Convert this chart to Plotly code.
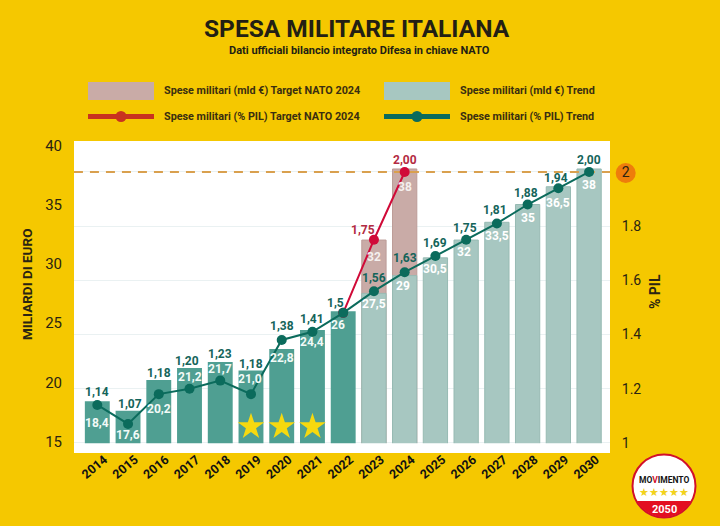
import numpy as np
import plotly.graph_objects as go

years_all = list(range(2014, 2031))
hist_years = list(range(2014, 2023))
hist_spend = [18.4, 17.6, 20.2, 21.2, 21.7, 21.0, 22.8, 24.4, 26]
trend_years = list(range(2023, 2031))
trend_spend = [27.5, 29, 30.5, 32, 33.5, 35, 36.5, 38]
target_years = [2023, 2024]
target_spend = [32, 38]
pil_trend = [1.14, 1.07, 1.18, 1.20, 1.23, 1.18, 1.38, 1.41, 1.48, 1.56, 1.63, 1.69, 1.75, 1.81, 1.88, 1.94, 2.00]
pil_trend_labels = ["1,14", "1,07", "1,18", "1,20", "1,23", "1,18", "1,38", "1,41", "1,5", "1,56", "1,63", "1,69", "1,75", "1,81", "1,88", "1,94", "2,00"]
target_line_years = [2022, 2023, 2024]
pil_target = [1.48, 1.75, 2.00]
star_years = [2019, 2020, 2021]

# label nudges in pixels (label offset relative to its mark)
spend_dy = [22, 24, 29, 9, 7, 8.5, 9, 12, 14]
trend_dy = [11, 10.5, 11, 12, 14, 13, 16.5, 16]
target_dy = [17, 18]
pil_dy = [13, 20, 21, 28, 27, 30, 14, 13, 10, 13, 14, 13, 12, 13, 12, 10, 12]
pil_dx = [0, 2, 0, -3, 0, 0, 0, 0, -8, 0, 0, 0, -1, -2, -2, -2, 0]
spend_dx = [0, 0, 0, 0, 0, -1, 0, 0, -5]
trend_dx = [0, -2, 0, -2, 0, 0, 0, 0]

W, H = 720, 526
L, R, T, B = 74, 610, 141, 453
BG = "#F5C800"
DARK = "#4F9F92"
LIGHT = "#A7C7C1"
PINK = "#C9ABA7"
GREEN = "#0B6B5C"
RED = "#D00A38"
INK = "#2A2412"
FONT = "Roboto"


def px(x):
    return (x - L) / (R - L)


def py(y):
    return (B - y) / (B - T)


fig = go.Figure()
fig.add_bar(x=target_years, y=target_spend, marker=dict(color=PINK, line=dict(color="#BC9C98", width=1)), width=0.79, yaxis="y", showlegend=False)
fig.add_bar(x=trend_years, y=trend_spend, marker=dict(color=LIGHT, line=dict(color="#97BAB3", width=1)), width=0.79, yaxis="y", showlegend=False)
fig.add_bar(x=hist_years, y=hist_spend, marker=dict(color=DARK, line=dict(width=0)), width=0.81, yaxis="y", showlegend=False)
fig.add_scatter(x=star_years, y=[16.25] * 3, mode="markers", yaxis="y", showlegend=False,
                marker=dict(symbol="star", size=20, color="#F6D90F", line=dict(width=0)))
fig.add_scatter(x=[2013.24, 2030.75], y=[2, 2], mode="lines", yaxis="y2", showlegend=False, cliponaxis=False,
                line=dict(color="#D9A04E", width=2, dash="9px 7px"))
fig.add_scatter(x=target_line_years, y=pil_target, mode="lines+markers", yaxis="y2", showlegend=False,
                line=dict(color=RED, width=2), marker=dict(color=RED, size=10))
fig.add_scatter(x=years_all, y=pil_trend, mode="lines+markers", yaxis="y2", showlegend=False,
                line=dict(color=GREEN, width=2), marker=dict(color=GREEN, size=10))

ann = []


def note(x, y, text, color, size, xref="x", yref="y", dx=0, dy=0, bold=True, xanchor="center", **kw):
    t = f"<b>{text}</b>" if bold else text
    ann.append(dict(x=x, y=y, xref=xref, yref=yref, text=t, showarrow=False, xshift=dx, yshift=dy,
                    xanchor=xanchor, yanchor="middle",
                    font=dict(family=FONT, size=size, color=color), **kw))


def comma(v):
    return str(v).replace(".", ",") if v != 21.0 else "21,0"


for yr, v, d, dx in zip(hist_years, hist_spend, spend_dy, spend_dx):
    note(yr, v, comma(v), "#F2FAF7", 12, dx=dx, dy=-d)
for yr, v, d, dx in zip(target_years, target_spend, target_dy, [0, 0]):
    note(yr, v, comma(v), "#F5F0EE", 12, dx=dx, dy=-d)
for yr, v, d, dx in zip(trend_years, trend_spend, trend_dy, trend_dx):
    note(yr, v, comma(v), "#FFFFFF", 12, dx=dx, dy=-d)
for yr, v, t, d, dx in zip(years_all, pil_trend, pil_trend_labels, pil_dy, pil_dx):
    note(yr, v, t, "#14645A", 12, yref="y2", dx=dx, dy=d)
note(2023, 1.75, "1,75", "#B32B42", 12, yref="y2", dx=-11, dy=10)
note(2024, 2.00, "2,00", "#B32B42", 12, yref="y2", dy=12)

# titles
note(px(357), py(29), "SPESA MILITARE ITALIANA", "#231F14", 24.5, xref="paper", yref="paper")
note(px(359.5), py(50.5), "Dati ufficiali bilancio integrato Difesa in chiave NATO", "#231F14", 11, xref="paper", yref="paper")

# legend texts
for xp, yp, t in [(162, 91, "Spese militari (mld €) Target NATO 2024"),
                  (162, 116.5, "Spese militari (% PIL) Target NATO 2024"),
                  (458, 91, "Spese militari (mld €) Trend"),
                  (458, 116.5, "Spese militari (% PIL) Trend")]:
    note(px(xp), py(yp), t, "#3A2E10", 10.8, xref="paper", yref="paper", xanchor="left")

# axis titles
note(px(27), py(285), "MILIARDI DI EURO", INK, 13.5, xref="paper", yref="paper", textangle=-90)
note(px(655), py(292), "% PIL", INK, 14, xref="paper", yref="paper", textangle=-90)

# logo text
note(px(664), py(480), "MO<span style='color:#D2102A'>V</span>IMENTO", "#151515", 8.5, xref="paper", yref="paper")
note(px(664), py(492.5), "★★★★★", "#F2D21B", 10.5, xref="paper", yref="paper", bold=False)
note(px(664), py(509), "2050", "#FFFFFF", 11, xref="paper", yref="paper")


def rect(x0, x1, y0, y1, color):
    return dict(type="rect", xref="paper", yref="paper", x0=px(x0), x1=px(x1), y0=py(y0), y1=py(y1),
                fillcolor=color, line=dict(width=0), layer="above")


def circle(cx, cy, r, color, layer="above", line=None):
    return dict(type="circle", xref="paper", yref="paper", x0=px(cx - r), x1=px(cx + r), y0=py(cy - r), y1=py(cy + r),
                fillcolor=color, line=line or dict(width=0), layer=layer)


shapes = [
    # white strip under the bars
    dict(type="rect", xref="paper", yref="y", x0=0, x1=1, y0=14, y1=14.85, fillcolor="white", line=dict(width=0), layer="above"),
    rect(88, 154, 82, 100, PINK),
    rect(384, 450, 82, 100, LIGHT),
    rect(88, 154, 114, 119, "#C9321F"),
    circle(121, 116.5, 5.5, "#C9321F"),
    rect(384, 450, 114, 119, GREEN),
    circle(417, 116.5, 5.5, GREEN),
    circle(625.7, 173, 10, "#EE7D0B", layer="below"),
    circle(664, 486, 31.5, "white", line=dict(color="#D2102A", width=2)),
]
theta = np.linspace(np.deg2rad(29), np.deg2rad(151), 40)
seg = [(664 + 31 * np.cos(a), 486 + 31 * np.sin(a)) for a in theta]
path = "M " + " L ".join(f"{px(a):.4f} {py(b):.4f}" for a, b in seg) + " Z"
shapes.append(dict(type="path", xref="paper", yref="paper", path=path, fillcolor="#E30F21", line=dict(width=0), layer="above"))

fig.update_layout(
    width=W, height=H, margin=dict(l=L, r=W - R, t=T, b=H - B, pad=0, autoexpand=False),
    paper_bgcolor=BG, plot_bgcolor="white", barmode="overlay", showlegend=False,
    annotations=ann, shapes=shapes,
    xaxis=dict(range=[2013.242, 2030.68], tickmode="array", tickvals=years_all, ticktext=[str(y) for y in years_all],
               tickangle=-40, tickfont=dict(family=FONT, size=12.5, color="#111111", weight="bold"),
               showgrid=False, zeroline=False, ticks="", ticklabelshift=7, ticklabelstandoff=-4, showline=False),
    yaxis=dict(range=[14.03, 40.36], tickmode="array", tickvals=[15, 20, 25, 30, 35, 40], showgrid=False, zeroline=False,
               tickfont=dict(family=FONT, size=15, color=INK), ticks="outside", ticklen=8, tickcolor="rgba(0,0,0,0)"),
    yaxis2=dict(range=[0.9627, 2.1144], overlaying="y", side="right", tickmode="array",
                tickvals=[1, 1.2, 1.4, 1.6, 1.8, 2], ticktext=["1", "1.2", "1.4", "1.6", "1.8", "2"],
                showgrid=True, gridcolor="#EAF1F2", gridwidth=1, zeroline=False,
                tickfont=dict(family=FONT, size=14, color=INK), ticks="outside", ticklen=8, tickcolor="rgba(0,0,0,0)"),
    bargap=0.19,
)
fig.write_html("out.html", post_script="document.body.style.margin='0';", config=dict(displayModeBar=False))
